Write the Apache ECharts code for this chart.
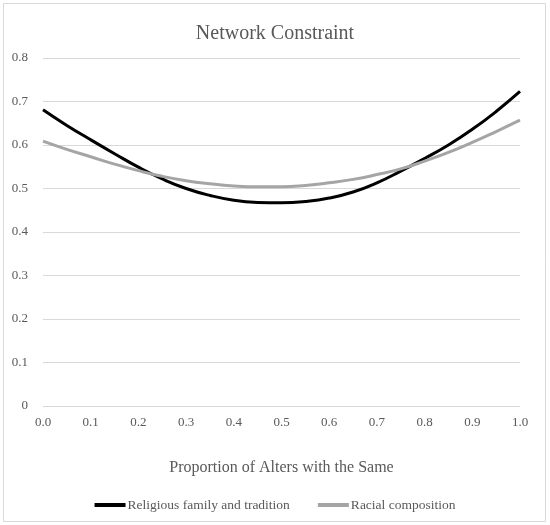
<!DOCTYPE html>
<html>
<head>
<meta charset="utf-8">
<script src="https://cdn.jsdelivr.net/npm/echarts@6/dist/echarts.min.js"></script>
<style>
html,body{margin:0;padding:0;background:#fff;}
#chart{width:550px;height:525px;}
</style>
</head>
<body>
<div id="chart"></div>
<script>
const titleText = 'Network Constraint';
const xAxisName = 'Proportion of Alters with the Same';
const xValues = [0, 0.05, 0.1, 0.15, 0.2, 0.25, 0.3, 0.35, 0.4, 0.45, 0.5, 0.55, 0.6, 0.65, 0.7, 0.75, 0.8, 0.85, 0.9, 0.95, 1.0];
const seriesNames = ['Religious family and tradition', 'Racial composition'];
const religious = [0.681, 0.645, 0.612, 0.580, 0.549, 0.522, 0.500, 0.484, 0.473, 0.468, 0.467, 0.470, 0.478, 0.492, 0.513, 0.540, 0.569, 0.600, 0.636, 0.677, 0.723];
const racial = [0.609, 0.590, 0.573, 0.556, 0.541, 0.528, 0.518, 0.511, 0.506, 0.504, 0.504, 0.507, 0.513, 0.521, 0.532, 0.545, 0.563, 0.583, 0.606, 0.631, 0.657];
const yMin = 0, yMax = 0.8, yStep = 0.1;
const xMin = 0, xMax = 1, xStep = 0.1;

const font = '"Liberation Serif", "Times New Roman", serif';
const txt = '#595959';
const chart = echarts.init(document.getElementById('chart'));
chart.setOption({
  animation: false,
  backgroundColor: '#fff',
  graphic: [{
    type: 'rect', shape: {x: 3.5, y: 3.5, width: 542, height: 518},
    style: {fill: 'none', stroke: '#d9d9d9', lineWidth: 1}, silent: true
  }],
  title: {
    text: titleText, left: 'center', top: 19,
    textStyle: {fontFamily: font, fontSize: 20, fontWeight: 'normal', color: txt}
  },
  legend: {
    bottom: 8, left: 'center', itemWidth: 31, itemHeight: 4, itemGap: 28,
    icon: 'rect',
    textStyle: {fontFamily: font, fontSize: 13.5, color: txt, padding: [0, 0, 0, -3]},
    data: seriesNames
  },
  grid: {left: 43, right: 30, top: 58, bottom: 119},
  xAxis: {
    type: 'value', min: xMin, max: xMax, interval: xStep,
    name: xAxisName, nameLocation: 'middle', nameGap: 54,
    nameTextStyle: {fontFamily: font, fontSize: 16, color: txt},
    axisLine: {show: false}, axisTick: {show: false}, splitLine: {show: false},
    axisLabel: {fontFamily: font, fontSize: 13, color: txt, margin: 10,
      formatter: v => v.toFixed(1)}
  },
  yAxis: {
    type: 'value', min: yMin, max: yMax, interval: yStep,
    axisLine: {show: false}, axisTick: {show: false},
    splitLine: {lineStyle: {color: '#d9d9d9', width: 1}},
    axisLabel: {fontFamily: font, fontSize: 13, color: txt, margin: 15,
      formatter: v => v === 0 ? '0' : v.toFixed(1)}
  },
  series: [
    {name: seriesNames[0], type: 'line', smooth: true, showSymbol: false,
      data: xValues.map((x, i) => [x, religious[i]]),
      lineStyle: {color: '#000', width: 3}, itemStyle: {color: '#000'}},
    {name: seriesNames[1], type: 'line', smooth: true, showSymbol: false,
      data: xValues.map((x, i) => [x, racial[i]]),
      lineStyle: {color: '#a5a5a5', width: 3}, itemStyle: {color: '#a5a5a5'}}
  ]
});
</script>
</body>
</html>
